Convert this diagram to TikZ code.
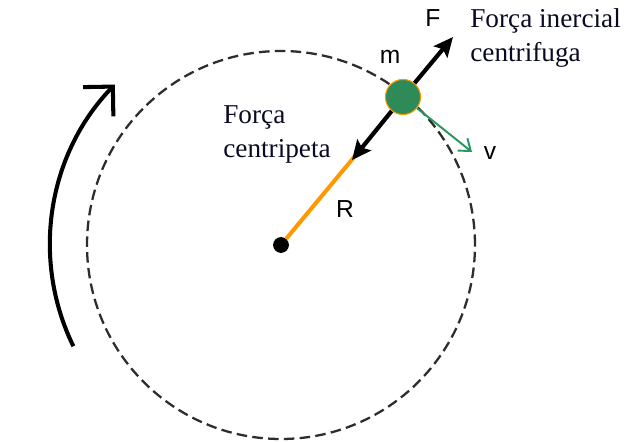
\documentclass[tikz,border=0pt]{standalone}
\usepackage{fontspec}
\setmainfont{Liberation Serif}
\setsansfont{Liberation Sans}
\usetikzlibrary{arrows.meta, positioning, calc}
\definecolor{ballgreen}{RGB}{46,139,87}
\definecolor{radorange}{RGB}{255,153,0}
\definecolor{velgreen}{RGB}{40,150,95}
\definecolor{ink}{RGB}{10,10,35}
\definecolor{pathgray}{RGB}{45,45,45}

\begin{document}
\begin{tikzpicture}[x=0.02cm, y=0.02cm,
    force/.style={line width=2.4pt, -{Stealth[length=11pt, width=10pt, inset=2pt]}},
    letter/.style={font=\sffamily\fontsize{14}{16}\selectfont, inner sep=0pt},
    caption/.style={font=\fontsize{15.5}{19.3}\selectfont, text=ink, align=left, inner sep=0pt, anchor=north west}]
    \useasboundingbox (0,0) rectangle (627,-442);
    \fill[white] (0,0) rectangle (627,-442);

    % orbit and sense of rotation
    \coordinate (centrept) at (281,-245);
    \draw[pathgray, line width=1.3pt, dash pattern=on 6pt off 3pt] (centrept) circle[radius=194];
    \coordinate (turnstart) at ($(centrept)+(206:231)$);
    \draw[line width=2.3pt, -{Straight Barb[length=12pt, width=24pt]}] (turnstart) arc[start angle=206, end angle=136, radius=231];

    % radius, mass and forces
    \node[circle, fill=black, inner sep=0pt, minimum size=9pt] (centre) at (centrept) {};
    \coordinate (rend) at (355,-156);
    \draw[radorange, line width=2.3pt] (centre) -- (rend);
    \node[circle, fill=ballgreen, draw=radorange, line width=0.6pt, inner sep=0pt, minimum size=20pt] (ball) at (403,-97) {};
    \coordinate (ftip) at (453,-37);
    \coordinate (ctip) at (352,-160);
    \coordinate (vtip) at (472,-152);
    \draw[force] (ball) -- (ftip);
    \draw[force] (ball) -- (ctip);
    \draw[velgreen, line width=1.1pt, -{Straight Barb[length=6pt, width=9pt]}] (ball) -- (vtip);

    \node[letter] (flbl) at (433,-18) {F};
    \node[letter] (mlbl) at (390,-57) {m};
    \node[letter] (vlbl) at (490,-153) {v};
    \node[letter] (rlbl) at (345,-209) {R};

    \node[caption] (inercial) at (470,-8) {Força inercial\\centrifuga};
    \node[caption] (centripeta) at (223,-105) {Força\\centripeta};
\end{tikzpicture}
\end{document}
